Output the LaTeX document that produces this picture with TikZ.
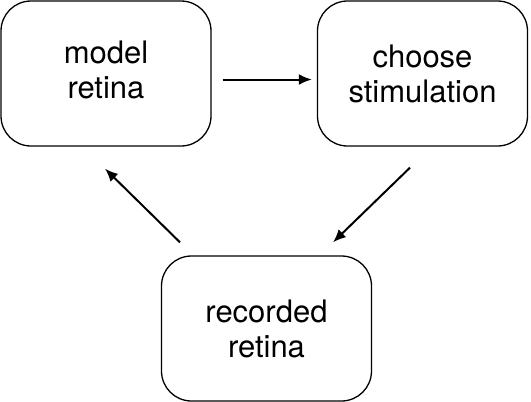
\documentclass[tikz,border=0pt]{standalone}
\usepackage{fontspec}
\setmainfont{TeX Gyre Heros}
\usepackage{tikz}
\usetikzlibrary{calc,arrows.meta}
\tikzset{
  StepBox/.style={
    draw=black, line width=0.65pt,
    rounded corners=15pt,
    minimum width=105pt, minimum height=72.5pt,
    align=center, inner sep=0pt,
    font=\fontsize{15.5}{17.5}\selectfont
  },
  Flow/.style={
    line width=1pt,
    -{Latex[length=6.5pt,width=5.5pt]}
  }
}

\begin{document}
\begin{tikzpicture}[x=0.5pt, y=-0.5pt, line join=round]
  \useasboundingbox (0,0) rectangle (531,402);

  \node[StepBox] (model)    at (106,73.5)    {\raisebox{-3.5pt}{\begin{tabular}{@{}c@{}}model\\retina\end{tabular}}};
  \node[StepBox] (choose)   at (422.5,73.5)  {choose\\stimulation};
  \node[StepBox] (recorded) at (266.5,328.5) {recorded\\retina};

  % loop model -> choose -> recorded -> model
  \draw[Flow] ($(model.east)+(11,6)$) -- ($(choose.west)+(-5,6)$);
  \draw[Flow] ($(choose.south)+(-12.5,21)$) -- ($(recorded.north)+(66.5,-13)$);
  \draw[Flow] ($(recorded.north)+(-86.5,-13)$) -- ($(model.south)+(-1,22)$);
\end{tikzpicture}
\end{document}
